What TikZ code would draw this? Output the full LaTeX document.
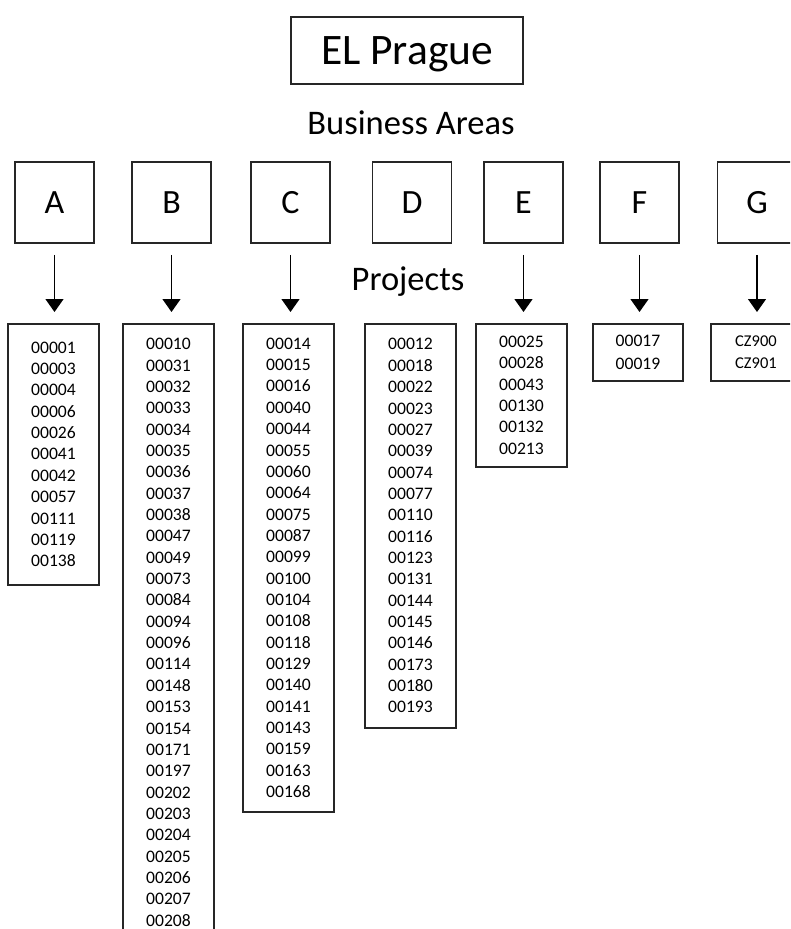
\documentclass[tikz,border=0pt]{standalone}
\usepackage{fontspec}
\setmainfont{Carlito}
\usetikzlibrary{arrows.meta}

\begin{document}
\begin{tikzpicture}[x=1pt, y=-1pt,
  frame/.style={draw=black!85, line width=1.6pt, inner sep=0pt},
  titlebox/.style={frame, minimum width=232pt, minimum height=67pt,
    text depth=0pt, font=\fontsize{43.5}{48}\selectfont},
  heading/.style={anchor=base, font=\fontsize{34.5}{40}\selectfont},
  areabox/.style={frame, minimum width=79pt, minimum height=81pt,
    text depth=0pt, font=\fontsize{34}{40}\selectfont},
  listbox/.style={frame, minimum width=91pt, anchor=north, align=center,
    font=\fontsize{17.6}{21.35}\selectfont},
  shortlist/.style={listbox, font=\fontsize{17.6}{22.5}\selectfont},
  codelist/.style={listbox, font=\fontsize{16.5}{22.5}\selectfont},
  arr/.style={draw=black, line width=1.3pt, shorten <=11pt, shorten >=11pt,
    -{Triangle[width=18pt, length=13pt]}}
]
\useasboundingbox (0,0) rectangle (790,929);
\clip (0,0) rectangle (790,929);

% headline and section labels
\node[titlebox] (title) at (407,50.5) {EL Prague};
\node[heading] (areas) at (411,134) {Business Areas};
\node[heading] (projects) at (408,290) {Projects};

% business areas
\node[areabox] (A) at (54.5,202.5) {A};
\node[areabox] (B) at (171.5,202.5) {B};
\node[areabox] (C) at (290.5,202.5) {C};
\node[areabox] (D) at (412,202.5) {D};
\node[areabox] (E) at (523.5,202.5) {E};
\node[areabox] (F) at (639.5,202.5) {F};
\node[areabox] (G) at (757,202.5) {G};

% project lists
\node[listbox, minimum height=261pt] (LA) at (53.5,323)
  {00001\\00003\\00004\\00006\\00026\\00041\\00042\\00057\\00111\\00119\\00138};
\node[listbox, minimum height=617pt] (LB) at (168.5,323)
  {00010\\00031\\00032\\00033\\00034\\00035\\00036\\00037\\00038\\00047\\00049\\00073\\00084\\00094\\
   00096\\00114\\00148\\00153\\00154\\00171\\00197\\00202\\00203\\00204\\00205\\00206\\00207\\00208};
\node[listbox, minimum height=488pt] (LC) at (288.5,323)
  {00014\\00015\\00016\\00040\\00044\\00055\\00060\\00064\\00075\\00087\\00099\\
   00100\\00104\\00108\\00118\\00129\\00140\\00141\\00143\\00159\\00163\\00168};
\node[listbox, minimum height=404pt] (LD) at (410.5,323)
  {00012\\00018\\00022\\00023\\00027\\00039\\00074\\00077\\00110\\
   00116\\00123\\00131\\00144\\00145\\00146\\00173\\00180\\00193};
\node[listbox, minimum height=143pt] (LE) at (521.5,323)
  {00025\\00028\\00043\\00130\\00132\\00213};
\node[shortlist, minimum height=57pt, minimum width=90pt] (LF) at (638,323)
  {00017\\00019};
\node[codelist, minimum height=57pt, minimum width=90pt] (LG) at (756,323)
  {CZ900\\CZ901};

% arrows from areas to their project lists
\foreach \a/\l in {A/LA, B/LB, C/LC, E/LE, F/LF, G/LG}
  \draw[arr] (\a.south) -- (\a.south |- \l.north);
\end{tikzpicture}
\end{document}
